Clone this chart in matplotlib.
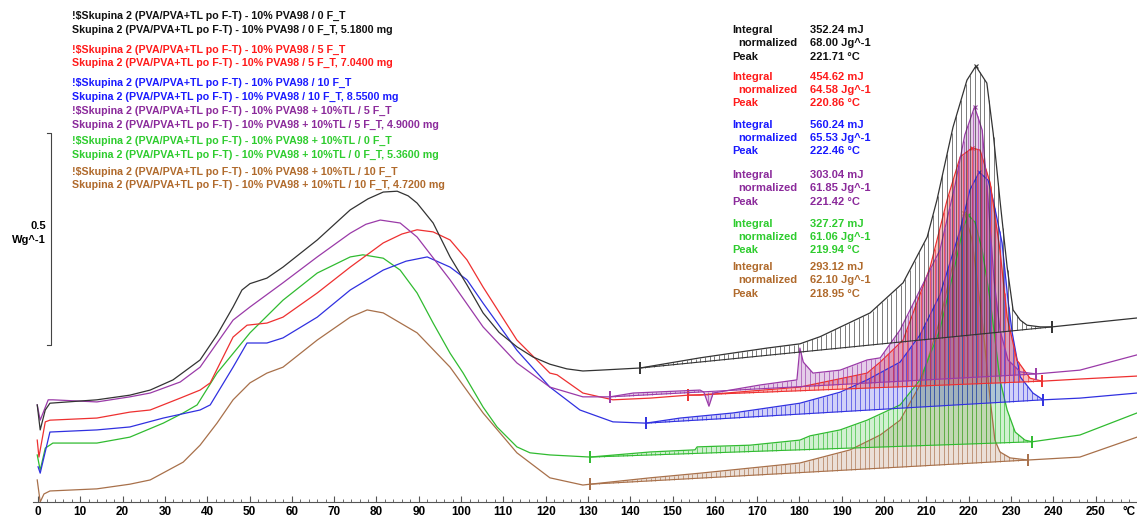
import numpy as np
import matplotlib
matplotlib.use("Agg")
import matplotlib.pyplot as plt

plt.rcParams['font.family'] = ['Liberation Sans', 'DejaVu Sans']

# DSC curves, temperature (°C) and heat flow (W/g, arbitrary offset)
black_t = [-0.2, 0.5, 1.7, 2.8, 13.9, 21.7, 26.5, 31.9, 38.3, 42.3, 46.1, 48.2, 50.1, 54.1, 57.9, 66.0,
           73.8, 78.0, 81.6, 84.9, 87.5, 89.6, 93.4, 97.4, 101.4, 105.2, 109.0, 113.2, 117.0, 121.0, 125.0,
           128.8, 132.9, 142.3, 156.5, 172.3, 180.1, 184.9, 196.7, 204.5, 210.2, 212.5, 216.3, 219.6,
           221.7, 224.3, 225.8, 227.4, 229.1, 230.5, 232.2, 233.8, 236.9, 239.7, 251.1, 259.8]
black_y = [0.229, 0.170, 0.217, 0.233, 0.241, 0.252, 0.264, 0.288, 0.335, 0.394, 0.460, 0.500, 0.515,
           0.528, 0.554, 0.618, 0.689, 0.715, 0.731, 0.733, 0.722, 0.705, 0.658, 0.578, 0.512, 0.446,
           0.400, 0.366, 0.342, 0.325, 0.314, 0.309, 0.311, 0.316, 0.340, 0.363, 0.373, 0.390, 0.446,
           0.517, 0.625, 0.712, 0.884, 0.995, 1.028, 0.988, 0.870, 0.712, 0.554, 0.453, 0.429, 0.417,
           0.413, 0.413, 0.425, 0.434]

red_t = [-0.2, 0.2, 1.7, 2.8, 13.9, 21.7, 26.5, 33.6, 38.3, 40.7, 46.1, 49.4, 54.1, 57.9, 66.0, 73.8,
         81.6, 86.0, 89.6, 93.4, 97.4, 101.4, 105.2, 113.2, 121.0, 122.7, 128.8, 135.9, 144.7, 153.7,
         156.5, 180.1, 196.0, 199.1, 204.5, 208.0, 210.9, 214.9, 218.0, 220.8, 222.7, 225.1, 227.4,
         229.1, 231.4, 234.5, 237.4, 246.3, 259.8]
red_y = [0.146, 0.106, 0.189, 0.193, 0.198, 0.212, 0.217, 0.245, 0.264, 0.281, 0.389, 0.417, 0.422,
         0.436, 0.493, 0.554, 0.611, 0.632, 0.642, 0.637, 0.618, 0.571, 0.507, 0.382, 0.304, 0.300,
         0.257, 0.241, 0.245, 0.252, 0.252, 0.271, 0.304, 0.330, 0.382, 0.476, 0.554, 0.712, 0.814,
         0.835, 0.830, 0.752, 0.594, 0.436, 0.335, 0.292, 0.285, 0.290, 0.297]

blue_t = [0.0, 0.5, 2.8, 13.9, 21.7, 29.6, 38.3, 40.7, 46.1, 49.4, 54.1, 57.9, 66.0, 73.8, 81.6, 87.0,
          92.0, 97.4, 101.4, 105.2, 113.2, 121.0, 128.1, 135.9, 143.7, 151.8, 164.3, 180.1, 189.6,
          196.0, 203.8, 208.5, 213.2, 218.0, 220.3, 222.5, 224.6, 225.8, 227.9, 229.3, 230.3, 232.2,
          235.2, 237.6, 246.3, 259.8]
blue_y = [0.083, 0.068, 0.165, 0.170, 0.177, 0.198, 0.217, 0.229, 0.318, 0.375, 0.375, 0.387, 0.436,
          0.500, 0.547, 0.568, 0.578, 0.554, 0.524, 0.469, 0.358, 0.271, 0.217, 0.189, 0.186, 0.198,
          0.210, 0.233, 0.259, 0.288, 0.330, 0.394, 0.488, 0.642, 0.736, 0.778, 0.759, 0.712, 0.611,
          0.476, 0.399, 0.295, 0.257, 0.241, 0.245, 0.257]

purple_t = [-0.2, 0.5, 2.4, 3.5, 13.9, 21.7, 26.5, 33.6, 38.3, 46.1, 50.1, 57.9, 66.0, 73.8, 77.5, 80.9,
            85.6, 89.6, 97.4, 105.2, 113.2, 121.0, 128.8, 135.2, 140.7, 156.5, 157.4, 158.6, 159.6,
            170.7, 179.4, 180.1, 180.9, 183.2, 189.6, 196.0, 199.1, 203.8, 208.5, 213.2, 216.8, 219.1,
            221.4, 223.2, 224.6, 226.0, 227.4, 229.3, 232.2, 235.9, 246.3, 259.8]
purple_y = [0.229, 0.193, 0.241, 0.241, 0.236, 0.248, 0.257, 0.283, 0.318, 0.429, 0.460, 0.517, 0.578,
            0.634, 0.655, 0.665, 0.658, 0.625, 0.524, 0.413, 0.328, 0.271, 0.248, 0.248, 0.257, 0.264,
            0.259, 0.226, 0.257, 0.276, 0.288, 0.363, 0.330, 0.304, 0.311, 0.335, 0.340, 0.406, 0.500,
            0.594, 0.748, 0.866, 0.932, 0.877, 0.712, 0.524, 0.406, 0.335, 0.307, 0.302, 0.311, 0.347]

green_t = [-0.2, 0.5, 1.7, 3.5, 13.9, 21.7, 29.6, 34.3, 37.6, 42.3, 50.1, 57.9, 66.0, 73.8, 76.8, 81.6,
           85.6, 89.6, 93.4, 97.4, 100.5, 105.2, 108.5, 113.2, 116.3, 121.0, 130.5, 144.7, 155.3, 155.8,
           168.3, 180.1, 182.5, 189.6, 196.0, 203.8, 208.5, 213.2, 216.8, 218.7, 219.9, 221.5, 223.2,
           225.1, 227.4, 229.1, 231.0, 233.3, 235.0, 246.3, 259.8]
green_y = [0.111, 0.075, 0.127, 0.139, 0.139, 0.153, 0.186, 0.210, 0.229, 0.304, 0.399, 0.476, 0.540,
           0.578, 0.583, 0.575, 0.547, 0.493, 0.422, 0.351, 0.304, 0.224, 0.177, 0.130, 0.116, 0.111,
           0.106, 0.118, 0.123, 0.130, 0.134, 0.146, 0.156, 0.170, 0.193, 0.229, 0.288, 0.406, 0.559,
           0.646, 0.677, 0.660, 0.594, 0.476, 0.288, 0.217, 0.165, 0.146, 0.142, 0.158, 0.210]

brown_t = [-0.2, 0.5, 1.4, 2.8, 13.9, 21.7, 26.5, 34.3, 38.3, 42.3, 46.1, 50.1, 54.1, 57.9, 66.0, 73.8,
           77.8, 81.6, 89.6, 97.4, 105.2, 113.2, 121.0, 128.8, 130.5, 144.7, 156.5, 180.1, 192.0, 199.1,
           203.8, 208.5, 213.2, 216.8, 219.0, 220.8, 223.2, 225.1, 226.2, 227.4, 229.8, 234.0, 246.3,
           259.8]
brown_y = [0.052, 0.000, 0.019, 0.026, 0.031, 0.042, 0.052, 0.094, 0.134, 0.186, 0.241, 0.281, 0.304,
           0.318, 0.382, 0.436, 0.453, 0.446, 0.399, 0.318, 0.210, 0.116, 0.057, 0.040, 0.042, 0.057,
           0.068, 0.092, 0.123, 0.158, 0.193, 0.276, 0.429, 0.583, 0.684, 0.618, 0.429, 0.241, 0.146,
           0.118, 0.104, 0.099, 0.106, 0.153]

# integration limits (°C)
limits = [(142.3, 239.7), (153.7, 237.4), (143.7, 237.6), (135.2, 235.9), (130.5, 235.0), (130.5, 234.0)]

names = ["10% PVA98 / 0 F_T", "10% PVA98 / 5 F_T", "10% PVA98 / 10 F_T",
         "10% PVA98 + 10%TL / 5 F_T", "10% PVA98 + 10%TL / 0 F_T", "10% PVA98 + 10%TL / 10 F_T"]
masses = [5.18, 7.04, 8.55, 4.90, 5.36, 4.72]
integrals = [352.24, 454.62, 560.24, 303.04, 327.27, 293.12]
normalized = [68.00, 64.58, 65.53, 61.85, 61.06, 62.10]
peaks = [221.71, 220.86, 222.46, 221.42, 219.94, 218.95]

curves = [(black_t, black_y), (red_t, red_y), (blue_t, blue_y),
          (purple_t, purple_y), (green_t, green_y), (brown_t, brown_y)]
line_colors = ['#333333', '#ee3030', '#3030e0', '#9a3aa8', '#30bb30', '#a8704a']
text_colors = ['#111111', '#ff1a1a', '#1a1aff', '#8b2a9b', '#2ecc2e', '#b06a2c']
fill_alpha = [0.0, 0.3, 0.22, 0.25, 0.22, 0.22]

W, H = 1137, 520
fig = plt.figure(figsize=(W / 100, H / 100), dpi=100)
ax = fig.add_axes([33 / W, 18 / H, 1 - 33 / W, 502 / H])

order = [5, 4, 2, 1, 3, 0]
for i in order:
    t = np.array(curves[i][0])
    y = np.array(curves[i][1])
    c = line_colors[i]
    t0, t1 = limits[i]
    y0, y1 = np.interp([t0, t1], t, y)
    # hatched integration area
    sel = (t > t0) & (t < t1)
    tt = np.concatenate([[t0], t[sel], [t1]])
    yy = np.concatenate([[y0], y[sel], [y1]])
    bb = y0 + (tt - t0) * (y1 - y0) / (t1 - t0)
    if fill_alpha[i] > 0:
        ax.fill_between(tt, bb, yy, color=c, alpha=fill_alpha[i], lw=0)
    th = np.arange(t0, t1, 1.1)
    ax.vlines(th, y0 + (th - t0) * (y1 - y0) / (t1 - t0), np.interp(th, t, y),
              colors=c, lw=0.6, alpha=0.75)
    ax.plot([t0, t1], [y0, y1], color=c, lw=0.8)
    ax.plot(t, y, color=c, lw=0.9)
    ax.plot([t0, t1], [y0, y1], ls='none', marker='|', ms=8, mew=1.4, color=c)
    ax.plot([peaks[i]], [np.interp(peaks[i], t, y)], ls='none', marker='x', ms=3, mew=0.8, color=c)

ax.set_xlim(-1.2, 259.8)
ax.set_ylim(0, 502 / 424)
ax.set_xticks(np.arange(0, 251, 10))
ax.set_xticks(np.arange(0, 259, 2), minor=True)
ax.tick_params(axis='x', direction='in', length=4, width=0.8, color='#555555',
               labelsize=8.5, pad=3)
ax.tick_params(axis='x', which='minor', direction='in', length=2.5, width=0.6, color='#555555')
for lab in ax.get_xticklabels():
    lab.set_fontweight('bold')
ax.set_yticks([])
for s in ['left', 'right', 'top']:
    ax.spines[s].set_visible(False)
ax.spines['bottom'].set_color('#555555')
ax.spines['bottom'].set_linewidth(0.8)
ax.text(258, -10 / 424, '°C', ha='center', va='center', fontsize=8.5, fontweight='bold')

# scale bar 0.5 W/g
bar_top = (502 - 133) / 424
ax.plot([2.1, 3.1, 3.1, 2.1], [bar_top, bar_top, bar_top - 0.5, bar_top - 0.5],
        color='#444444', lw=0.8, clip_on=False)
fig.text(46 / W, 1 - 226 / H, '0.5', ha='right', va='center', fontsize=8, fontweight='bold')
fig.text(46 / W, 1 - 240 / H, 'Wg^-1', ha='right', va='center', fontsize=8, fontweight='bold')

# sample legend
leg_y = [(16, 30), (50, 63), (83, 97), (111, 125), (141, 155), (172, 185)]
for i in range(6):
    head = "Skupina 2 (PVA/PVA+TL po F-T) - " + names[i]
    fig.text(72 / W, 1 - leg_y[i][0] / H, "!$" + head, color=text_colors[i],
             fontsize=7.7, fontweight='bold', va='center')
    fig.text(72 / W, 1 - leg_y[i][1] / H, head + ", %.4f mg" % masses[i], color=text_colors[i],
             fontsize=7.7, fontweight='bold', va='center')

# integration results
res_y = [(30, 43, 57), (77, 90, 103), (125, 138, 151), (175, 188, 202), (224, 237, 250), (267, 280, 294)]
for i in range(6):
    c = text_colors[i]
    y1, y2, y3 = res_y[i]
    fig.text(732 / W, 1 - y1 / H, "Integral", color=c, fontsize=8, fontweight='bold', va='center')
    fig.text(738 / W, 1 - y2 / H, "normalized", color=c, fontsize=8, fontweight='bold', va='center')
    fig.text(732 / W, 1 - y3 / H, "Peak", color=c, fontsize=8, fontweight='bold', va='center')
    fig.text(810 / W, 1 - y1 / H, "%.2f mJ" % integrals[i], color=c, fontsize=8, fontweight='bold', va='center')
    fig.text(810 / W, 1 - y2 / H, "%.2f Jg^-1" % normalized[i], color=c, fontsize=8, fontweight='bold', va='center')
    fig.text(810 / W, 1 - y3 / H, "%.2f °C" % peaks[i], color=c, fontsize=8, fontweight='bold', va='center')

fig.savefig("out.png", dpi=100)
